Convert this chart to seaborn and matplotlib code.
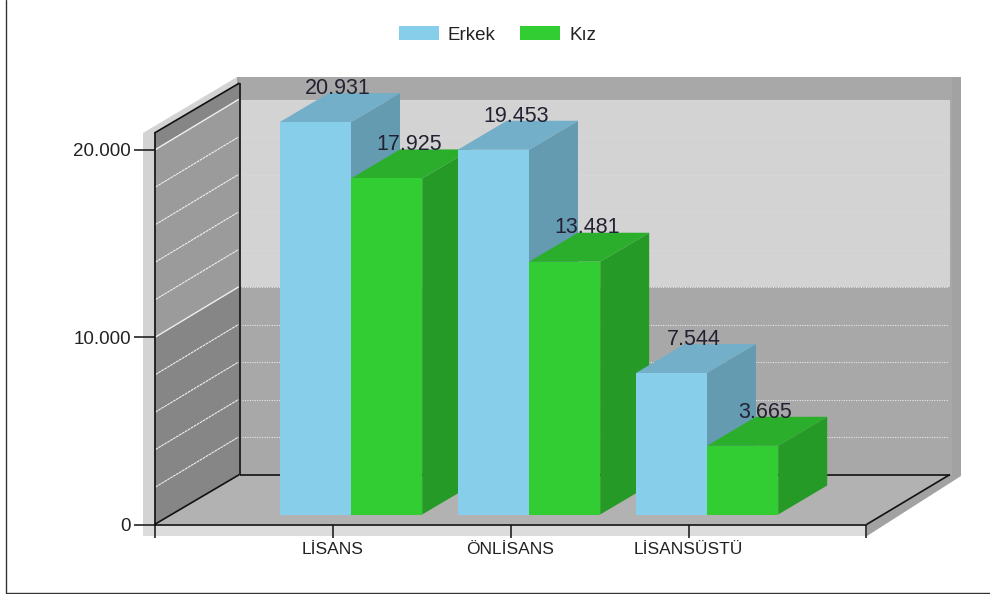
import matplotlib
matplotlib.use("Agg")
import matplotlib.pyplot as plt
import pandas as pd
import seaborn as sns
from matplotlib.patches import Polygon
from matplotlib.ticker import FixedLocator, FuncFormatter

categories = ["LİSANS", "ÖNLİSANS", "LİSANSÜSTÜ"]
erkek = [20931, 19453, 7544]
kiz = [17925, 13481, 3665]
y_ticks = [0, 10000, 20000]
series_names = ["Erkek", "Kız"]
series_colors = ["#87CEEB", "#32CD32"]

W, H = 990, 594
sns.set_theme(style="white")
plt.rcParams["font.family"] = ["Liberation Sans", "DejaVu Sans"]

df = pd.DataFrame({
    "Düzey": categories * 2,
    "Cinsiyet": [series_names[0]] * 3 + [series_names[1]] * 3,
    "Sayı": erkek + kiz,
})

fig = plt.figure(figsize=(W / 100, H / 100), dpi=100, facecolor="white")

PX_PER_UNIT = 0.01875
X0, X1, Y0 = 154.5, 866.5, 524.5
Y_TOP = 133
YMAX = (Y0 - Y_TOP) / PX_PER_UNIT
WALL_DX, WALL_DY = 85, 50


def rect_px(x0, x1, ybottom, ytop):
    return [x0 / W, 1 - ybottom / H, (x1 - x0) / W, (ybottom - ytop) / H]


# Room (walls, floor, frame) in pixel coordinates
bg = fig.add_axes([0, 0, 1, 1], zorder=0)
bg.set_xlim(0, W)
bg.set_ylim(H, 0)
bg.set_axis_off()


def poly(pts, color, z=1):
    bg.add_patch(Polygon(pts, closed=True, fc=color, ec="none", lw=0, zorder=z))


def band_y(v, back=True):
    return (Y0 - WALL_DY if back else Y0) - v * PX_PER_UNIT


BX = X0 + WALL_DX
BY = Y0 - WALL_DY
FRONT_X = X1
BACK_R = 950

# outer light border, dark right border
poly([(143, 133), (237, 77), (240, 83), (155, 133), (155, 536), (143, 536)], "#d3d3d3")
poly([(143, 524), (867, 524), (867, 536), (143, 536)], "#dcdcdc")
poly([(237, 77), (961, 77), (961, 476), (867, 536), (867, 524), (BACK_R, BY), (BX, BY)], "#a2a2a2")
# back wall bands
poly([(BX, 77), (952, 77), (952, BY), (BX, BY)], "#a8a8a8", 2)
poly([(BX, band_y(20000)), (BACK_R, band_y(20000)), (BACK_R, band_y(10000)), (BX, band_y(10000))], "#d3d3d3", 3)
# floor
poly([(X0, Y0), (BX, BY), (BACK_R, BY), (FRONT_X, Y0)], "#b2b2b2", 3)
# left wall bands
poly([(X0, Y0), (BX, BY), (BX, 83), (X0, Y_TOP)], "#868686", 3)
poly([(X0, band_y(10000, False)), (BX, band_y(10000)), (BX, band_y(20000)), (X0, band_y(20000, False))], "#9b9b9b", 4)

# grid lines every 2000
for v in range(2000, 20001, 2000):
    major = v in y_ticks
    bg.plot([X0 + 1, BX - 1], [band_y(v, False), band_y(v)], color="#efefef",
            lw=1.0 if major else 0.8, ls="-" if major else (0, (2.5, 0.6)), zorder=5)
    bg.plot([BX + 2, BACK_R - 2], [band_y(v), band_y(v)], color="#eeeeee" if v > 10000 else "#e8e8e8",
            lw=0.8, ls=(0, (1, 1.2)), alpha=0.3 if v > 10000 else 1, zorder=5)

# black edges of the room
edge = dict(color="#111111", lw=1.2, zorder=6, solid_capstyle="butt")
bg.plot([BX, BX], [83, BY], **edge)
bg.plot([X0, BX], [Y_TOP, 83], **edge)
bg.plot([X0, BX], [Y0, BY], **edge)
bg.plot([BX, BACK_R], [BY, BY], **edge)
bg.plot([BACK_R, FRONT_X], [BY, Y0], **edge)

# picture frame
bg.plot([6, 6], [0, 592.5], color="#333333", lw=1.0, zorder=6)
bg.plot([6, W], [592.5, 592.5], color="#333333", lw=1.0, zorder=6)

# Front axis: scale and ticks
ax = fig.add_axes(rect_px(X0, X1, Y0, Y_TOP), zorder=2)
ax.patch.set_alpha(0)
ax.set_xlim(-1, 3)
ax.set_ylim(0, YMAX)
for s in ("top", "right"):
    ax.spines[s].set_visible(False)
for s in ("left", "bottom"):
    ax.spines[s].set_linewidth(1.2)
    ax.spines[s].set_color("#111111")
ax.xaxis.set_major_locator(FixedLocator([-1, 0, 1, 2, 3]))
ax.set_xticklabels([""] + categories + [""], fontsize=12.5, color="#222222")
ax.yaxis.set_major_locator(FixedLocator(y_ticks))
ax.yaxis.set_major_formatter(FuncFormatter(lambda v, _: f"{int(v):,}".replace(",", ".")))
ax.tick_params(axis="x", bottom=True, length=9, width=1.1, color="#111111", pad=3.5)
ax.tick_params(axis="y", left=True, length=15, width=1.1, color="#111111", pad=2,
               labelsize=13.5, labelcolor="#222222")
ax.set_xlabel("")
ax.set_ylabel("")

# Bars: same scale, plane shifted towards the back of the room
bar_ax = fig.add_axes(rect_px(X0 + 18.5, X1 + 18.5, Y0 - 10, Y_TOP - 10), zorder=3)
bar_ax.patch.set_alpha(0)
sns.barplot(data=df, x="Düzey", y="Sayı", hue="Cinsiyet", order=categories,
            hue_order=series_names, palette=series_colors, saturation=1,
            width=0.8, gap=0, errorbar=None, legend=True, linewidth=0, ax=bar_ax)
bar_ax.set_xlim(-1, 3)
bar_ax.set_ylim(0, YMAX)
handles, labels = bar_ax.get_legend_handles_labels()
bar_ax.get_legend().remove()
bar_ax.set_axis_off()

DX = 49 / 178
DY = 29 / PX_PER_UNIT
LABEL_SHIFT = 2 / 178


def shade(color, k):
    r, g, b = matplotlib.colors.to_rgb(color)
    return (r * k, g * k, b * k)


for j, container in enumerate(bar_ax.containers):
    col = series_colors[j]
    for i, bar in enumerate(container):
        x, w, h = bar.get_x(), bar.get_width(), bar.get_height()
        base = 10 + i * 10 + j * 3
        bar.set_zorder(base + 1)
        bar.set_clip_on(False)
        bar_ax.add_patch(Polygon([(x + w, 0), (x + w + DX, DY), (x + w + DX, h + DY), (x + w, h)],
                                 closed=True, fc=shade(col, 0.75), ec="none", zorder=base, clip_on=False))
        bar_ax.add_patch(Polygon([(x, h), (x + DX, h + DY), (x + w + DX, h + DY), (x + w, h)],
                                 closed=True, fc=shade(col, 0.85), ec="none", zorder=base, clip_on=False))
        bar_ax.text(x + w / 2 + DX / 2 - LABEL_SHIFT, h + DY - 40, f"{int(h):,}".replace(",", "."),
                    ha="center", va="baseline", fontsize=15.5, color="#222233",
                    zorder=100, clip_on=False)

fig.legend(handles, labels, loc="center", bbox_to_anchor=(497.5 / W, 1 - 35 / H),
           ncol=2, frameon=False, fontsize=13.5, handlelength=2.13, handleheight=0.7,
           handletextpad=0.48, columnspacing=1.33, labelcolor="#222222", borderpad=0)

fig.savefig("out.png", dpi=100, facecolor="white")
